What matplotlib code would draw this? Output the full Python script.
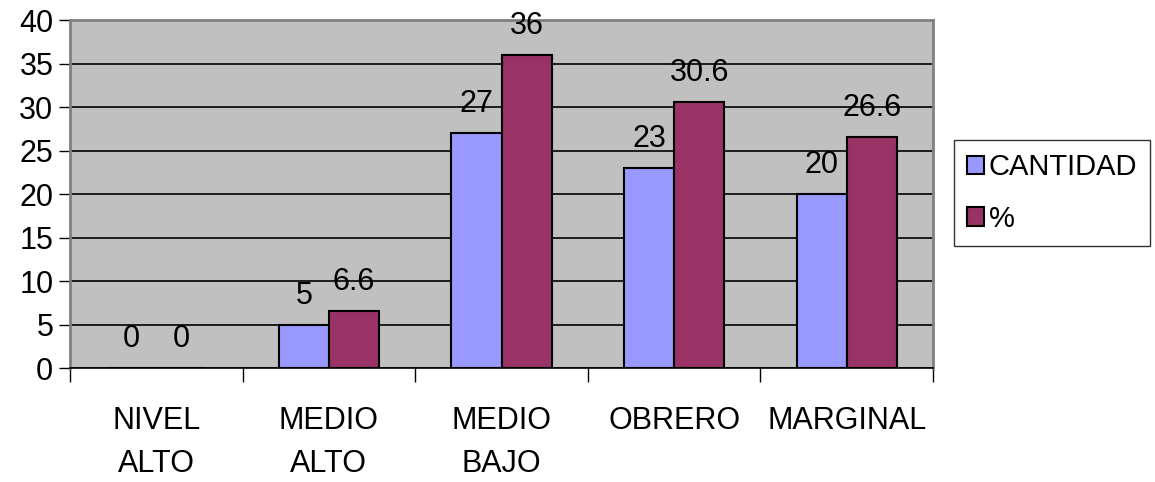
import numpy as np
import matplotlib.pyplot as plt

categories = ["NIVEL\nALTO", "MEDIO\nALTO", "MEDIO\nBAJO", "OBRERO", "MARGINAL"]
cantidad = [0, 5, 27, 23, 20]
porcentaje = [0, 6.6, 36, 30.6, 26.6]
cantidad_labels = ["0", "5", "27", "23", "20"]
porcentaje_labels = ["0", "6.6", "36", "30.6", "26.6"]

plt.rcParams['font.family'] = ['Liberation Sans', 'DejaVu Sans']

fig = plt.figure(figsize=(11.55, 4.82), dpi=100)
ax = fig.add_axes([0.0606, 0.2365, 0.7472, 0.722])
ax.set_facecolor('#C0C0C0')

x = np.arange(len(categories))
w = 0.29
b1 = ax.bar(x - w / 2, cantidad, w, color='#9999FF', edgecolor='black', linewidth=1.5,
            label='CANTIDAD', zorder=3)
b2 = ax.bar(x + w / 2, porcentaje, w, color='#993366', edgecolor='black', linewidth=1.5,
            label='%', zorder=3)

fs = 22
# value labels above the bars
for rect, lab in zip(b1, cantidad_labels):
    ax.annotate(lab, (rect.get_x() + rect.get_width() / 2, rect.get_height()),
                xytext=(0, 10), textcoords='offset points', ha='center', va='bottom', fontsize=fs)
for rect, lab in zip(b2, porcentaje_labels):
    ax.annotate(lab, (rect.get_x() + rect.get_width() / 2, rect.get_height()),
                xytext=(0, 10), textcoords='offset points', ha='center', va='bottom', fontsize=fs)

ax.set_xlim(-0.5, len(categories) - 0.5)
ax.set_ylim(0, 40)
ax.set_yticks(np.arange(0, 41, 5))
ax.yaxis.grid(True, color='black', linewidth=1.2, zorder=0)
ax.set_axisbelow(True)
ax.tick_params(axis='y', labelsize=fs, length=8, width=1, pad=4)

# category boundary ticks and centered labels
ax.set_xticks(np.arange(-0.5, len(categories), 1))
ax.set_xticklabels([])
ax.tick_params(axis='x', length=10, width=1)
for xi, cat in zip(x, categories):
    ax.text(xi, -0.11, cat, transform=ax.get_xaxis_transform(), ha='center', va='top',
            fontsize=fs, linespacing=1.55)

for side in ['top', 'right', 'left']:
    ax.spines[side].set_color('#808080')
    ax.spines[side].set_linewidth(2)
ax.spines['bottom'].set_color('black')
ax.spines['bottom'].set_linewidth(1.2)

leg = ax.legend(loc='center left', bbox_to_anchor=(1.024, 0.503), fontsize=21,
                frameon=True, fancybox=False, edgecolor='black', handlelength=0.6,
                handleheight=0.6, handletextpad=0.15, borderpad=0.45, labelspacing=0.8,
                borderaxespad=0)
leg.get_frame().set_linewidth(1)

fig.savefig('out.png', dpi=100)
